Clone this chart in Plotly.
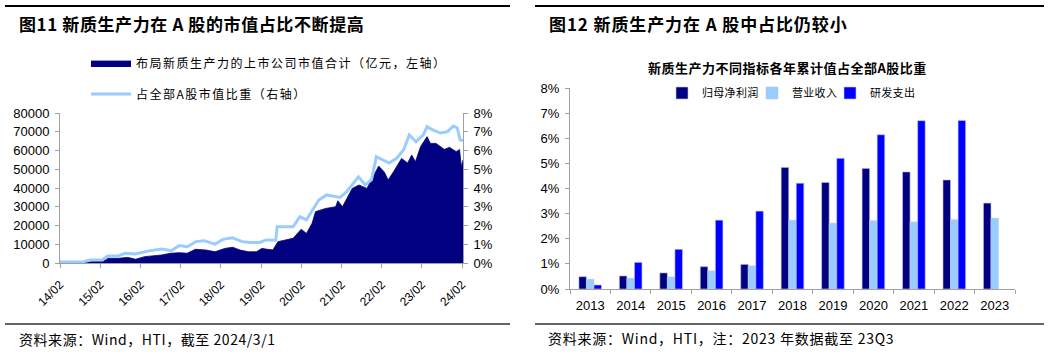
import plotly.graph_objects as go

# ---------------- data: left chart ----------------
cap_dates = ["2014-02-01", "2014-10-01", "2014-12-01", "2015-03-01", "2015-04-15", "2015-07-15",
             "2015-10-10", "2015-12-20", "2016-03-10", "2016-05-20", "2016-08-15", "2016-11-01",
             "2017-01-20", "2017-04-01", "2017-06-15", "2017-09-20", "2017-12-10", "2018-03-10",
             "2018-05-20", "2018-07-25", "2018-10-10", "2018-12-20", "2019-02-10", "2019-04-01",
             "2019-05-20", "2019-07-05", "2019-11-20", "2020-02-01", "2020-03-20", "2020-05-10",
             "2020-06-10", "2020-09-10", "2020-12-10", "2020-12-30", "2021-02-10", "2021-05-10",
             "2021-07-10", "2021-09-20", "2021-11-20", "2022-01-05", "2022-02-25", "2022-04-01",
             "2022-05-20", "2022-08-01", "2022-09-25", "2022-11-01", "2022-12-05", "2023-01-20",
             "2023-03-20", "2023-04-20", "2023-06-10", "2023-08-25", "2023-10-10", "2023-12-10",
             "2024-01-10", "2024-01-25", "2024-02-10"]
cap_values = [200, 250, 900, 900, 2500, 2500,
              3000, 2000, 3400, 3700, 4300, 5200,
              5500, 5200, 7300, 6900, 6000, 7800,
              8400, 6900, 6000, 6000, 7800, 7300,
              7000, 11400, 13200, 18000, 15800, 21200,
              27400, 29100, 30000, 33200, 30000, 39800,
              41600, 39800, 46900, 51700, 48500, 44300,
              48700, 55800, 53300, 57600, 54000, 62000,
              67400, 63800, 63800, 60600, 61700, 59400,
              60500, 51400, 54900]

ratio_dates = ["2014-02-01", "2014-09-01", "2014-11-01", "2015-02-20", "2015-04-10", "2015-07-10",
               "2015-09-15", "2015-12-15", "2016-05-01", "2016-08-15", "2016-11-10", "2017-01-20",
               "2017-04-01", "2017-06-20", "2017-09-01", "2017-12-10", "2018-02-20", "2018-05-15",
               "2018-08-15", "2018-10-20", "2019-01-20", "2019-03-20", "2019-06-15", "2019-06-28",
               "2019-11-20", "2020-01-20", "2020-03-20", "2020-07-10", "2020-09-20", "2021-01-20",
               "2021-03-20", "2021-07-05", "2021-09-05", "2021-11-01", "2021-12-15", "2022-02-10",
               "2022-04-10", "2022-06-20", "2022-08-20", "2022-10-10", "2022-12-10", "2023-02-15",
               "2023-03-20", "2023-05-10", "2023-07-20", "2023-09-20", "2023-11-15", "2023-12-20",
               "2024-01-15", "2024-02-10"]
ratio_values = [0.06, 0.07, 0.16, 0.16, 0.37, 0.37,
                0.52, 0.48, 0.66, 0.75, 0.66, 0.93,
                0.87, 1.14, 1.19, 1.01, 1.26, 1.35,
                1.14, 1.10, 1.10, 1.23, 1.22, 1.94,
                1.94, 2.47, 2.30, 3.36, 3.63, 3.50,
                3.80, 4.60, 4.17, 4.44, 5.67, 5.50,
                5.33, 5.60, 6.04, 6.83, 6.47, 6.83,
                7.27, 7.10, 6.93, 7.00, 7.30, 7.20,
                6.56, 6.53]

left_tick_dates = ["2014-02-01", "2015-02-01", "2016-02-01", "2017-02-01", "2018-02-01", "2019-02-01",
                   "2020-02-01", "2021-02-01", "2022-02-01", "2023-02-01", "2024-02-01"]
left_tick_text = ["14/02", "15/02", "16/02", "17/02", "18/02", "19/02",
                  "20/02", "21/02", "22/02", "23/02", "24/02"]

# ---------------- data: right chart ----------------
years = ["2013", "2014", "2015", "2016", "2017", "2018", "2019", "2020", "2021", "2022", "2023"]
net_profit = [0.49, 0.52, 0.64, 0.89, 0.98, 4.84, 4.24, 4.80, 4.66, 4.34, 3.42]
revenue = [0.39, 0.43, 0.48, 0.72, 0.92, 2.74, 2.62, 2.72, 2.67, 2.76, 2.82]
rnd = [0.16, 1.06, 1.58, 2.74, 3.10, 4.21, 5.20, 6.14, 6.70, 6.71, None]
bar_names = ["归母净利润", "营业收入", "研发支出"]

# ---------------- styling ----------------
W, H = 1050, 353
NAVY = "#000080"
LIGHT = "#99CCFF"
BLUE = "#0000FF"
AX = "#A0A0A0"
CJK = "Noto Sans CJK SC"
NUM = "Liberation Sans"


def px_x(x):
    return x / W


def px_y(y):
    return (H - y) / H


def spaced(text, ls):
    return '<span style="letter-spacing:%spx">%s</span>' % (ls, text)


fig = go.Figure()

fig.add_trace(go.Scatter(
    x=cap_dates, y=cap_values, mode="lines", fill="tozeroy",
    line=dict(color=NAVY, width=0.8), fillcolor=NAVY,
    name=spaced("布局新质生产力的上市公司市值合计（亿元，左轴）", 1.5),
    xaxis="x", yaxis="y", legend="legend"))

fig.add_trace(go.Scatter(
    x=ratio_dates, y=ratio_values, mode="lines",
    line=dict(color=LIGHT, width=3),
    name=spaced("占全部A股市值比重（右轴）", 1.5),
    xaxis="x", yaxis="y2", legend="legend2"))

bar_legends = ["legend3", "legend4", "legend5"]
for name, vals, col, lg in zip(bar_names, [net_profit, revenue, rnd], [NAVY, LIGHT, BLUE], bar_legends):
    fig.add_trace(go.Bar(
        x=years, y=vals, name=spaced(name, 0.3),
        marker=dict(color=col, line=dict(color="#C8C8E8", width=0.6)),
        xaxis="x2", yaxis="y3", legend=lg))

axis_common = dict(showline=True, linecolor=AX, linewidth=1, ticks="outside", tickcolor=AX,
                   ticklen=4, showgrid=False, zeroline=False, automargin=False)

leg_common = dict(xanchor="left", yanchor="middle", bgcolor="rgba(0,0,0,0)")

fig.update_layout(
    width=W, height=H,
    margin=dict(l=0, r=0, t=0, b=0, autoexpand=False),
    paper_bgcolor="white", plot_bgcolor="white",
    font=dict(family=NUM, size=13, color="black"),
    barmode="group", bargap=0.44, bargroupgap=0,
    xaxis=dict(domain=[px_x(60), px_x(463)], anchor="y", type="date",
               range=["2014-02-01", "2024-02-10"],
               tickmode="array", tickvals=left_tick_dates, ticktext=left_tick_text,
               tickangle=-45, ticklabelstandoff=5, tickfont=dict(size=12, family=NUM), **axis_common),
    yaxis=dict(domain=[px_y(263), px_y(113)], anchor="x", range=[0, 80000], dtick=10000,
               tickformat="d", ticklabelstandoff=3, tickfont=dict(size=13, family=NUM), **axis_common),
    yaxis2=dict(overlaying="y", side="right", anchor="x", range=[0, 8], dtick=1, ticksuffix="%",
                ticklabelstandoff=3, tickfont=dict(size=13, family=NUM), **axis_common),
    xaxis2=dict(domain=[px_x(570), px_x(1015)], anchor="y3", type="category",
                tickson="boundaries", ticklabelstandoff=4, tickfont=dict(size=13, family=NUM),
                **axis_common),
    yaxis3=dict(domain=[px_y(289), px_y(88)], anchor="x2", range=[0, 8], dtick=1, ticksuffix="%",
                ticklabelstandoff=3, tickfont=dict(size=13, family=NUM), **axis_common),
    legend=dict(x=px_x(86), y=px_y(63), font=dict(family=CJK, size=12), itemwidth=40, **leg_common),
    legend2=dict(x=px_x(86), y=px_y(94), font=dict(family=CJK, size=12), itemwidth=40, **leg_common),
    legend3=dict(x=px_x(662), y=px_y(93), font=dict(family=CJK, size=11), itemwidth=30, **leg_common),
    legend4=dict(x=px_x(752), y=px_y(93), font=dict(family=CJK, size=11), itemwidth=30, **leg_common),
    legend5=dict(x=px_x(830), y=px_y(93), font=dict(family=CJK, size=11), itemwidth=30, **leg_common),
    showlegend=True,
)

shapes = [
    dict(type="line", xref="paper", yref="paper", x0=px_x(5), x1=px_x(510), y0=px_y(6), y1=px_y(6),
         line=dict(color="black", width=2)),
    dict(type="line", xref="paper", yref="paper", x0=px_x(535), x1=px_x(1044), y0=px_y(6), y1=px_y(6),
         line=dict(color="black", width=2)),
    dict(type="line", xref="paper", yref="paper", x0=px_x(5), x1=px_x(510), y0=px_y(324), y1=px_y(324),
         line=dict(color="#333333", width=1.5)),
    dict(type="line", xref="paper", yref="paper", x0=px_x(535), x1=px_x(1044), y0=px_y(324), y1=px_y(324),
         line=dict(color="#333333", width=1.5)),
]
fig.update_layout(shapes=shapes)

annots = [
    dict(text="<b>" + spaced("图11 新质生产力在 A 股的市值占比不断提高", 0.6) + "</b>", x=px_x(17), y=px_y(23),
         font=dict(family=CJK, size=17)),
    dict(text="<b>" + spaced("图12 新质生产力在 A 股中占比仍较小", 0.9) + "</b>", x=px_x(547), y=px_y(23),
         font=dict(family=CJK, size=17)),
    dict(text=spaced("资料来源：Wind，HTI，截至 2024/3/1", 0.55), x=px_x(17), y=px_y(339),
         font=dict(family=CJK, size=14)),
    dict(text=spaced("资料来源：Wind，HTI，注：2023 年数据截至 23Q3", 0.75), x=px_x(546), y=px_y(338),
         font=dict(family=CJK, size=14)),
]
for a in annots:
    fig.add_annotation(xref="paper", yref="paper", xanchor="left", yanchor="middle",
                       showarrow=False, **a)
fig.add_annotation(xref="paper", yref="paper", x=px_x(787), y=px_y(68), xanchor="center",
                   yanchor="middle", showarrow=False,
                   text="<b>" + spaced("新质生产力不同指标各年累计值占全部A股比重", 0.5) + "</b>",
                   font=dict(family=CJK, size=13))

fig.write_html("out.html")
